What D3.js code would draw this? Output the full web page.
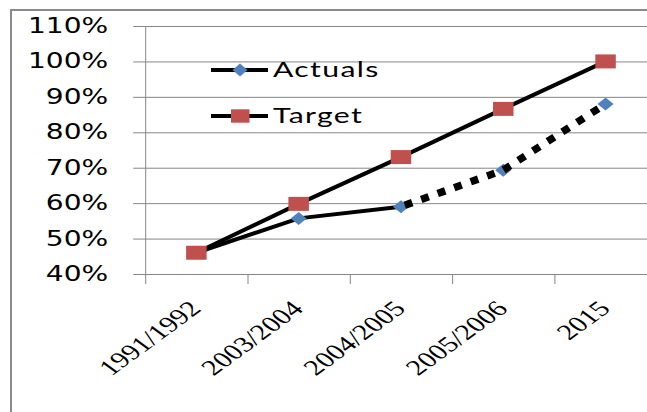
<!DOCTYPE html>
<html>
<meta charset="utf-8">
<style>
  body { margin: 0; background: #fff; }
  .ylab text { font-family: "DejaVu Sans", sans-serif; font-size: 20.5px; fill: #000; }
  .xlab text { font-family: "Liberation Serif", serif; font-size: 22px; fill: #000; }
  .legend text { font-family: Lato, sans-serif; font-size: 22px; fill: #000; }
</style>
<script src="https://d3js.org/d3.v7.min.js"></script>
<body>
<script>
var categories = ["1991/1992", "2003/2004", "2004/2005", "2005/2006", "2015"];
var actuals = [0.46, 0.557, 0.59, 0.693, 0.88];
var target = [0.46, 0.598, 0.73, 0.866, 1.0];
var yTicks = [0.4, 0.5, 0.6, 0.7, 0.8, 0.9, 1.0, 1.1];
var dottedFrom = 2; // actuals after this point drawn dotted

var W = 647, H = 412;
var plotLeft = 145.2, plotTop = 26, plotBottom = 274, band = 102.3;
var stretch = 1.37;

var svg = d3.select("body").append("svg")
  .attr("width", W).attr("height", H);

// outer frame
svg.append("path")
  .attr("d", "M11," + H + "V10H" + W)
  .attr("fill", "none").attr("stroke", "#8a8a8a").attr("stroke-width", 2);

var x = d3.scaleBand().domain(categories).range([plotLeft, plotLeft + band * categories.length]);
var xEdge = d3.scaleLinear().domain([0, categories.length]).range([plotLeft, plotLeft + band * categories.length]);
var y = d3.scaleLinear().domain([0.4, 1.1]).range([plotBottom, plotTop]);

// gridlines
svg.append("g")
  .attr("transform", "translate(" + plotLeft + ",0)")
  .call(d3.axisRight(y).tickValues(yTicks).tickSize(W - plotLeft).tickFormat(""))
  .call(function(g) { g.select(".domain").remove(); })
  .selectAll("line").attr("stroke", "#868686");

// y axis
var yAxis = svg.append("g")
  .attr("class", "ylab")
  .attr("transform", "translate(" + plotLeft + ",0)")
  .call(d3.axisLeft(y).tickValues(yTicks).tickSizeInner(12).tickSizeOuter(0)
    .tickFormat(d3.format(".0%")));
yAxis.attr("font-family", null).attr("font-size", null);
yAxis.select(".domain").attr("stroke", "#868686");
yAxis.selectAll("line").attr("stroke", "#868686");
yAxis.selectAll("text")
  .attr("x", 0)
  .attr("transform", "translate(-37,0) scale(" + stretch + ",1)");

// x axis (ticks at band edges)
var xAxis = svg.append("g")
  .attr("transform", "translate(0," + plotBottom + ")")
  .call(d3.axisBottom(xEdge).tickValues(d3.range(categories.length + 1))
    .tickSize(10).tickSizeOuter(0).tickFormat(""));
xAxis.select(".domain").attr("stroke", "#868686");
xAxis.selectAll("line").attr("stroke", "#868686");

svg.append("g").attr("class", "xlab")
  .selectAll("text").data(categories).enter().append("text")
  .attr("text-anchor", "end")
  .attr("transform", function(d) {
    return "translate(" + (x(d) + x.bandwidth() / 2 + 6) + ",310) scale(" + stretch + ",1) rotate(-45)";
  })
  .text(function(d) { return d; });

var cx = function(i) { return x(categories[i]) + x.bandwidth() / 2; };
var line = d3.line().x(function(d) { return cx(d.i); }).y(function(d) { return y(d.v); });

var actPts = actuals.map(function(v, i) { return { i: i, v: v }; });
var tgtPts = target.map(function(v, i) { return { i: i, v: v }; });

var diamond = "M0,-6.5L8,0L0,6.5L-8,0Z";

// actuals solid part
svg.append("path")
  .attr("d", line(actPts.slice(0, dottedFrom + 1)))
  .attr("fill", "none").attr("stroke", "#000").attr("stroke-width", 4);

svg.append("g").selectAll("path").data(actPts).enter().append("path")
  .attr("d", diamond)
  .attr("transform", function(d) { return "translate(" + cx(d.i) + "," + y(d.v) + ")"; })
  .attr("fill", "#4F81BD");

// actuals dotted part
svg.append("path")
  .attr("d", line(actPts.slice(dottedFrom)))
  .attr("fill", "none").attr("stroke", "#000").attr("stroke-width", 7.5)
  .attr("stroke-dasharray", "8 9.5")
  .attr("stroke-dashoffset", -4);

// target
svg.append("path")
  .attr("d", line(tgtPts))
  .attr("fill", "none").attr("stroke", "#000").attr("stroke-width", 4);

svg.append("g").selectAll("rect").data(tgtPts).enter().append("rect")
  .attr("x", function(d) { return cx(d.i) - 10.25; })
  .attr("y", function(d) { return y(d.v) - 7; })
  .attr("width", 20.5).attr("height", 14)
  .attr("fill", "#C0504D");

// legend
var legend = svg.append("g").attr("class", "legend");
var series = [
  { name: "Actuals", y: 70, kind: "diamond" },
  { name: "Target", y: 116, kind: "square" }
];
series.forEach(function(s) {
  legend.append("line")
    .attr("x1", 211).attr("x2", 268).attr("y1", s.y).attr("y2", s.y)
    .attr("stroke", "#000").attr("stroke-width", 4);
  if (s.kind === "diamond") {
    legend.append("path").attr("d", "M0,-6.5L7.5,0L0,6.5L-7.5,0Z")
      .attr("transform", "translate(240," + s.y + ")").attr("fill", "#4F81BD");
  } else {
    legend.append("rect").attr("x", 231).attr("y", s.y - 6.7)
      .attr("width", 18.5).attr("height", 13.4).attr("fill", "#C0504D");
  }
  legend.append("text")
    .attr("transform", "translate(273," + (s.y + 7) + ") scale(" + stretch + ",1)")
    .attr("letter-spacing", 1)
    .text(s.name);
});
</script>
</body>
</html>
